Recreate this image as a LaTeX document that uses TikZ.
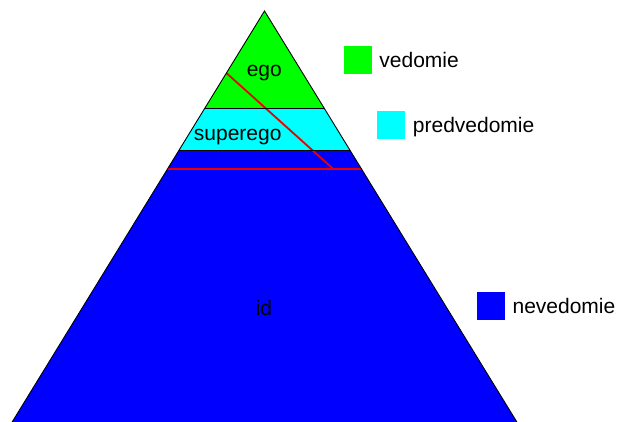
\documentclass[tikz,border=0pt]{standalone}
\usepackage{fontspec}
\setmainfont{Liberation Sans}
\usetikzlibrary{positioning}
\definecolor{egogreen}{RGB}{0,255,0}
\definecolor{supcyan}{RGB}{0,255,255}
\definecolor{idblue}{RGB}{0,0,255}
\definecolor{cutred}{RGB}{235,0,0}

\begin{document}
\begin{tikzpicture}[
    x=1pt, y=-1pt,
    edge/.style={draw=black, line width=0.9pt},
    cut/.style={draw=cutred, line width=1.8pt},
    swatch/.style={minimum size=28pt, inner sep=0pt},
    legtext/.style={inner sep=0pt, text height=15pt, text depth=0pt},
    font=\fontsize{21}{25}\selectfont
]
    \useasboundingbox (0,0) rectangle (620,421);

    % corners of the pyramid
    \coordinate (apex) at (264.5,11);
    \coordinate (L1) at (204.8,108.3);  \coordinate (R1) at (324.2,108.3);
    \coordinate (L2) at (178.7,150.7);  \coordinate (R2) at (350.3,150.7);
    \coordinate (L3) at (167.5,169);    \coordinate (R3) at (361.5,169);
    \coordinate (BL) at (-11.2,460);    \coordinate (BR) at (540.2,460);
    \coordinate (cutA) at (226.7,73.3); \coordinate (cutB) at (333.3,169);

    \begin{scope}
        \clip (0,0) rectangle (620,421);
        % 1. layers
        \fill[idblue] (L2) -- (R2) -- (BR) -- (BL) -- cycle;
        \fill[supcyan] (L1) -- (R1) -- (R2) -- (L2) -- cycle;
        \fill[egogreen] (apex) -- (R1) -- (L1) -- cycle;

        % 2. red lines
        \draw[cut] (cutA) -- (cutB);
        \draw[cut, line width=2pt] (L3) -- (R3);

        % 3. outline
        \draw[edge] (L1) -- (R1);
        \draw[edge] (L2) -- (R2);
        \draw[edge] (BL) -- (apex) -- (BR);
    \end{scope}

    % layer names
    \node (ego) at (264.3,73) {ego};
    \node (superego) at (237.7,137.5) {superego};
    \node (id) at (264,307.5) {id};

    % legend
    \node[swatch, fill=egogreen] (gsw) at (358,60.2) {};
    \node[legtext, right=7pt of gsw] (vedomie) {vedomie};
    \node[swatch, fill=supcyan] (csw) at (390.5,125) {};
    \node[legtext, right=8pt of csw] (predvedomie) {predvedomie};
    \node[swatch, fill=idblue] (bsw) at (491.2,305.5) {};
    \node[legtext, right=7pt of bsw] (nevedomie) {nevedomie};
\end{tikzpicture}
\end{document}
